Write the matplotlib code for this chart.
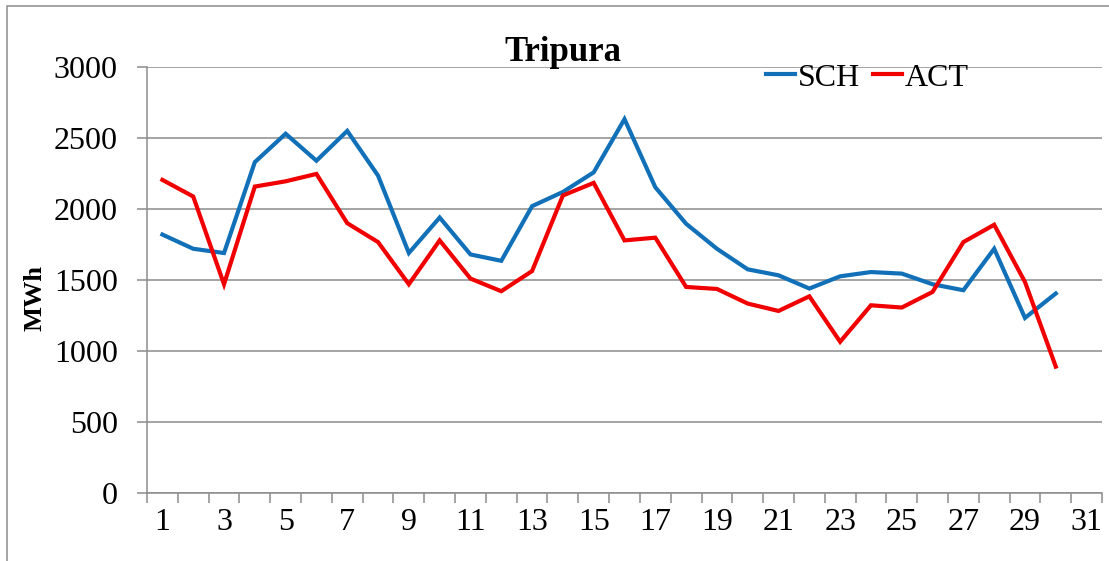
import numpy as np
import matplotlib
matplotlib.use("Agg")
import matplotlib.pyplot as plt
from matplotlib.patches import Rectangle

# daily values (MWh)
days = list(range(1, 31))
sch = [1820, 1720, 1690, 2330, 2530, 2340, 2550, 2235, 1690, 1940,
       1680, 1635, 2020, 2120, 2258, 2633, 2153, 1896, 1720, 1575,
       1533, 1440, 1526, 1556, 1545, 1470, 1428, 1720, 1233, 1405]
act = [2205, 2088, 1470, 2158, 2195, 2247, 1900, 1767, 1470, 1779,
       1510, 1421, 1563, 2095, 2184, 1779, 1798, 1451, 1437, 1334,
       1282, 1385, 1065, 1322, 1306, 1416, 1767, 1889, 1486, 890]
xtick_labels = [str(d) for d in range(1, 32, 2)]

plt.rcParams['font.family'] = ['Liberation Serif', 'DejaVu Serif']

W, H = 1109, 561
fig = plt.figure(figsize=(W / 100, H / 100), dpi=100)
ax = fig.add_axes([147 / W, 1 - 493 / H, (1102 - 147) / W, (493 - 67) / H])

grid_c = '#8c8c8c'
ax.plot(days, sch, color='#1170B8', lw=3, label='SCH', solid_joinstyle='miter')
ax.plot(days, act, color='#F00000', lw=3, label='ACT', solid_joinstyle='miter')

ax.set_xlim(0.5, 31.5)
ax.set_ylim(0, 3000)
ax.set_yticks(np.arange(0, 3001, 500))
ax.set_xticks(range(1, 32, 2))
ax.set_xticklabels(xtick_labels)
ax.set_xticks(np.arange(0.5, 32, 1), minor=True)
ax.yaxis.grid(True, color=grid_c, lw=1.1)
ax.set_axisbelow(True)

for s in ['top', 'right']:
    ax.spines[s].set_visible(False)
for s in ['left', 'bottom']:
    ax.spines[s].set_color(grid_c)
    ax.spines[s].set_linewidth(1.1)

ax.tick_params(axis='x', which='major', length=0, pad=11, labelsize=23)
ax.tick_params(axis='x', which='minor', length=7, width=1.1, color=grid_c, direction='out')
ax.tick_params(axis='y', length=7, width=1.1, color=grid_c, direction='out', pad=14, labelsize=23)

fig.text(35 / W, 1 - 298 / H, 'MWh', rotation=90, ha='center', va='center',
         fontsize=19, fontweight='bold')
fig.text(563 / W, 1 - 61 / H, 'Tripura', ha='center', va='baseline',
         fontsize=25, fontweight='bold')

ax.legend(loc='center left', bbox_to_anchor=(766 / W, 1 - 78 / H),
          bbox_transform=fig.transFigure, ncol=2, frameon=False,
          fontsize=23, handlelength=0.9, handletextpad=0.1,
          columnspacing=0.4, borderpad=0, borderaxespad=0)

# chart area border
fig.add_artist(Rectangle((7 / W, -0.1), 2, 1 - 6 / H + 0.1, transform=fig.transFigure,
                         fill=False, edgecolor=grid_c, lw=1.1))

fig.savefig('out.png', dpi=100)
